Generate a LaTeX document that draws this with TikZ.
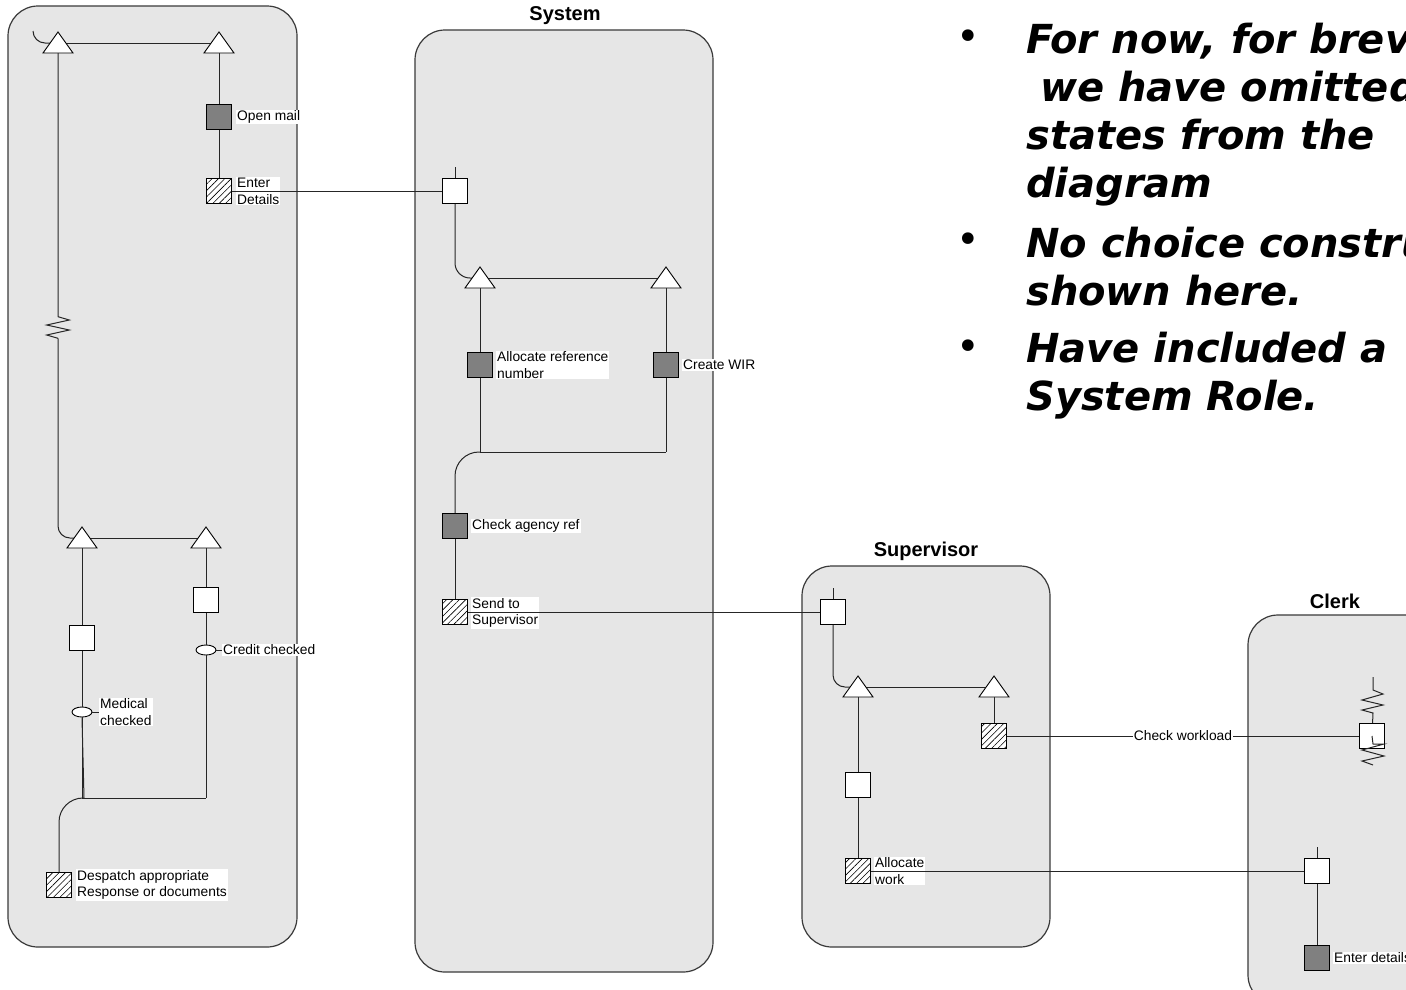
\documentclass[tikz,border=0pt]{standalone}
\usepackage{fontspec}
\setmainfont{Liberation Sans}
\newfontfamily\notefont{DejaVu Sans}
\usetikzlibrary{shapes.geometric,patterns.meta}
\definecolor{lanefill}{HTML}{E6E6E6}
\definecolor{laneline}{HTML}{3A3A3A}
\definecolor{actfill}{HTML}{808080}
\definecolor{wirecol}{HTML}{262626}
\tikzset{
  lane/.style={draw=laneline, fill=lanefill, line width=1.2pt, rounded corners=30pt},
  wire/.style={draw=wirecol, line width=1pt},
  box/.style={rectangle, draw=black, line width=0.9pt, minimum size=25pt, inner sep=0pt},
  actbox/.style={box, fill=actfill},
  statebox/.style={box, fill=white, path picture={\fill (path picture bounding box.center) circle (0.6pt);}},
  hatchbox/.style={box, fill=white, postaction={pattern={Lines[angle=45,distance=4.5pt,line width=0.6pt]}}},
  evt/.style={ellipse, draw=black, fill=white, line width=0.9pt, minimum width=20pt, minimum height=10pt, inner sep=0pt},
  lbl/.style={fill=white, inner sep=1pt, anchor=west, align=left, font=\fontsize{13.8}{16.7}\selectfont},
  lanetitle/.style={font=\bfseries\fontsize{20}{24}\selectfont, inner sep=0pt},
  note/.style={anchor=base west, inner sep=0pt, font=\notefont\bfseries\itshape\fontsize{40}{48}\selectfont},
  bulletmark/.style={inner sep=0pt, font=\notefont\fontsize{40}{48}\selectfont},
  trimark/.pic={\draw[line width=0.9pt, draw=black, fill=white] (0,-11) -- (15,10) -- (-15,10) -- cycle;}
}
\begin{document}
\begin{tikzpicture}[x=1pt,y=-1pt]
\useasboundingbox (0,0) rectangle (1406,989);
\fill[white] (0,0) rectangle (1406,989);

% lanes
\draw[lane] (8,6) rectangle (297,947);
\draw[lane] (415,30) rectangle (713,972);
\draw[lane] (802,566) rectangle (1050,947);
\draw[lane] (1248,615) rectangle (1480,1005);

\node[lanetitle] (tsys) at (565,16) {System};
\node[lanetitle] (tsup) at (926,551) {Supervisor};
\node[lanetitle] (tclk) at (1335,601) {Clerk};

% triangle coordinates
\coordinate (tL1) at (58,43);   \coordinate (tL1-b) at (58,53);
\coordinate (tL2) at (219,43);  \coordinate (tL2-b) at (219,53);
\coordinate (tL3) at (82,538);  \coordinate (tL3-b) at (82,548);
\coordinate (tL4) at (206,538); \coordinate (tL4-b) at (206,548);
\coordinate (tS1) at (480,278); \coordinate (tS1-b) at (480,288);
\coordinate (tS2) at (666,278); \coordinate (tS2-b) at (666,288);
\coordinate (tP1) at (858,687); \coordinate (tP1-b) at (858,697);
\coordinate (tP2) at (994,687); \coordinate (tP2-b) at (994,697);

% left lane nodes
\node[actbox] (om) at (219,117) {};
\node[hatchbox] (ed) at (219,191) {};
\node[statebox] (sbL1) at (82,638) {};
\node[statebox] (sbL2) at (206,600) {};
\node[evt] (evC) at (206,650) {};
\node[evt] (evM) at (82,712) {};
\node[hatchbox] (desp) at (59,885) {};
\coordinate (jL1) at (84,798);
\coordinate (jL0) at (82,798);
\coordinate (jL2) at (206,798);
\coordinate (arcL) at (33,31);

% system nodes
\node[statebox] (sys1) at (455,191) {};
\coordinate (sys1in) at (455,167);
\node[actbox] (arn) at (480,365) {};
\node[actbox] (wir) at (666,365) {};
\coordinate (jS1) at (480,452);
\coordinate (jS2) at (666,452);
\node[actbox] (car) at (455,526) {};
\node[hatchbox] (sts) at (455,612) {};

% supervisor nodes
\node[statebox] (sup1) at (833,612) {};
\coordinate (sup1in) at (833,588);
\node[hatchbox] (cw) at (994,736) {};
\node[statebox] (sup2) at (858,785) {};
\node[hatchbox] (aw) at (858,871) {};

% clerk nodes
\node[box, fill=white] (ck1) at (1372,736) {};
\node[statebox] (ck2) at (1317,871) {};
\coordinate (ck2in) at (1317,847);
\node[actbox] (ckd) at (1317,958) {};
\coordinate (zzU) at (1373,677);

% left lane wires
\draw[wire, rounded corners=12pt] (arcL) |- (tL1);
\draw[wire] (tL1) -- (tL2);
\draw[wire] (tL1-b) -- (58,316.7) -- (69.3,320) -- (46.7,325) -- (69.3,330) -- (46.7,335) -- (58,338.3);
\draw[wire, rounded corners=12pt] (58,338.3) |- (tL3);
\draw[wire] (tL3) -- (tL4);
\draw[wire] (tL2-b) -- (om);
\draw[wire] (om) -- (ed);
\draw[wire] (tL3-b) -- (sbL1);
\draw[wire] (sbL1) -- (evM);
\draw[wire] (evM.south) -- (jL0);
\draw[wire] (evM.south) -- (jL1);
\draw[wire] (tL4-b) -- (sbL2);
\draw[wire] (sbL2) -- (evC);
\draw[wire] (evC) -- (jL2);
\draw[wire] (jL0) -- (jL2);
\draw[wire, rounded corners=24pt] (jL1) -| (desp);

% system wires
\draw[wire] (sys1in) -- (sys1);
\draw[wire, rounded corners=15pt] (sys1) |- (tS1);
\draw[wire] (tS1) -- (tS2);
\draw[wire] (tS1-b) -- (arn);
\draw[wire] (tS2-b) -- (wir);
\draw[wire] (arn) -- (jS1);
\draw[wire] (wir) -- (jS2);
\draw[wire] (jS1) -- (jS2);
\draw[wire, rounded corners=24pt] (jS1) -| (car);
\draw[wire] (car) -- (sts);

% supervisor wires
\draw[wire] (sup1in) -- (sup1);
\draw[wire, rounded corners=12pt] (sup1) |- (tP1);
\draw[wire] (tP1) -- (tP2);
\draw[wire] (tP2-b) -- (cw);
\draw[wire] (tP1-b) -- (sup2);
\draw[wire] (sup2) -- (aw);

% clerk wires
\draw[wire] (ck2in) -- (ck2);
\draw[wire] (ck2) -- (ckd);
\draw[wire] (zzU) -- (1373,690) -- (1383,694) -- (1362,700) -- (1383,705) -- (1362,710) -- (1373,713) -- (ck1);
\draw[wire] (ck1.center) -- (1373,744) -- (1384,744) -- (1362,750) -- (1384,756) -- (1362,761) -- (1373,765);

% triangles
\foreach \t in {tL1,tL2,tL3,tL4,tS1,tS2,tP1,tP2} { \pic at (\t) {trimark}; }

% labels
\node[lbl] (lom) at (236,117) {Open mail};
\node[lbl] (led) at (236,191) {Enter\\Details};
\node[lbl] (lcc) at (222,650) {Credit checked};
\node[lbl] (lmc) at (99,712) {Medical\\checked};
\node[lbl] (lde) at (76,885) {Despatch appropriate\\Response or documents};
\node[lbl] (larn) at (496,365) {Allocate reference\\number};
\node[lbl] (lwir) at (682,365) {Create WIR};
\node[lbl] (lcar) at (471,526) {Check agency ref};
\node[lbl] (lsts) at (471,613) {Send to\\Supervisor};
\node[lbl] (law) at (874,871) {Allocate\\work};
\node[lbl] (lckd) at (1333,958) {Enter details};

\draw[wire] (evC.east) -- (lcc.west);
\draw[wire] (evM.east) -- (lmc.west);

% cross-lane wires
\draw[wire] (ed.east) -- (sys1.west);
\draw[wire] (sts.east) -- (sup1.west);
\draw[wire] (aw.east) -- (ck2.west);
\draw[wire] (cw.east) -- node[lbl, anchor=center] (lcw) {Check workload} (ck1.west);

% notes
\node[bulletmark] (b1) at (968,40) {•};
\node[bulletmark] (b2) at (968,243) {•};
\node[bulletmark] (b3) at (968,350) {•};
\node[note] (n11) at (1026,53) {For now, for brevity,};
\node[note] (n12) at (1026,101) {\hspace*{0.35em}we have omitted};
\node[note] (n13) at (1026,149) {states from the};
\node[note] (n14) at (1026,197) {diagram};
\node[note] (n21) at (1026,257) {No choice constructs};
\node[note] (n22) at (1026,305) {shown here.};
\node[note] (n31) at (1026,362) {Have included a};
\node[note] (n32) at (1026,410) {System Role.};
\end{tikzpicture}
\end{document}
